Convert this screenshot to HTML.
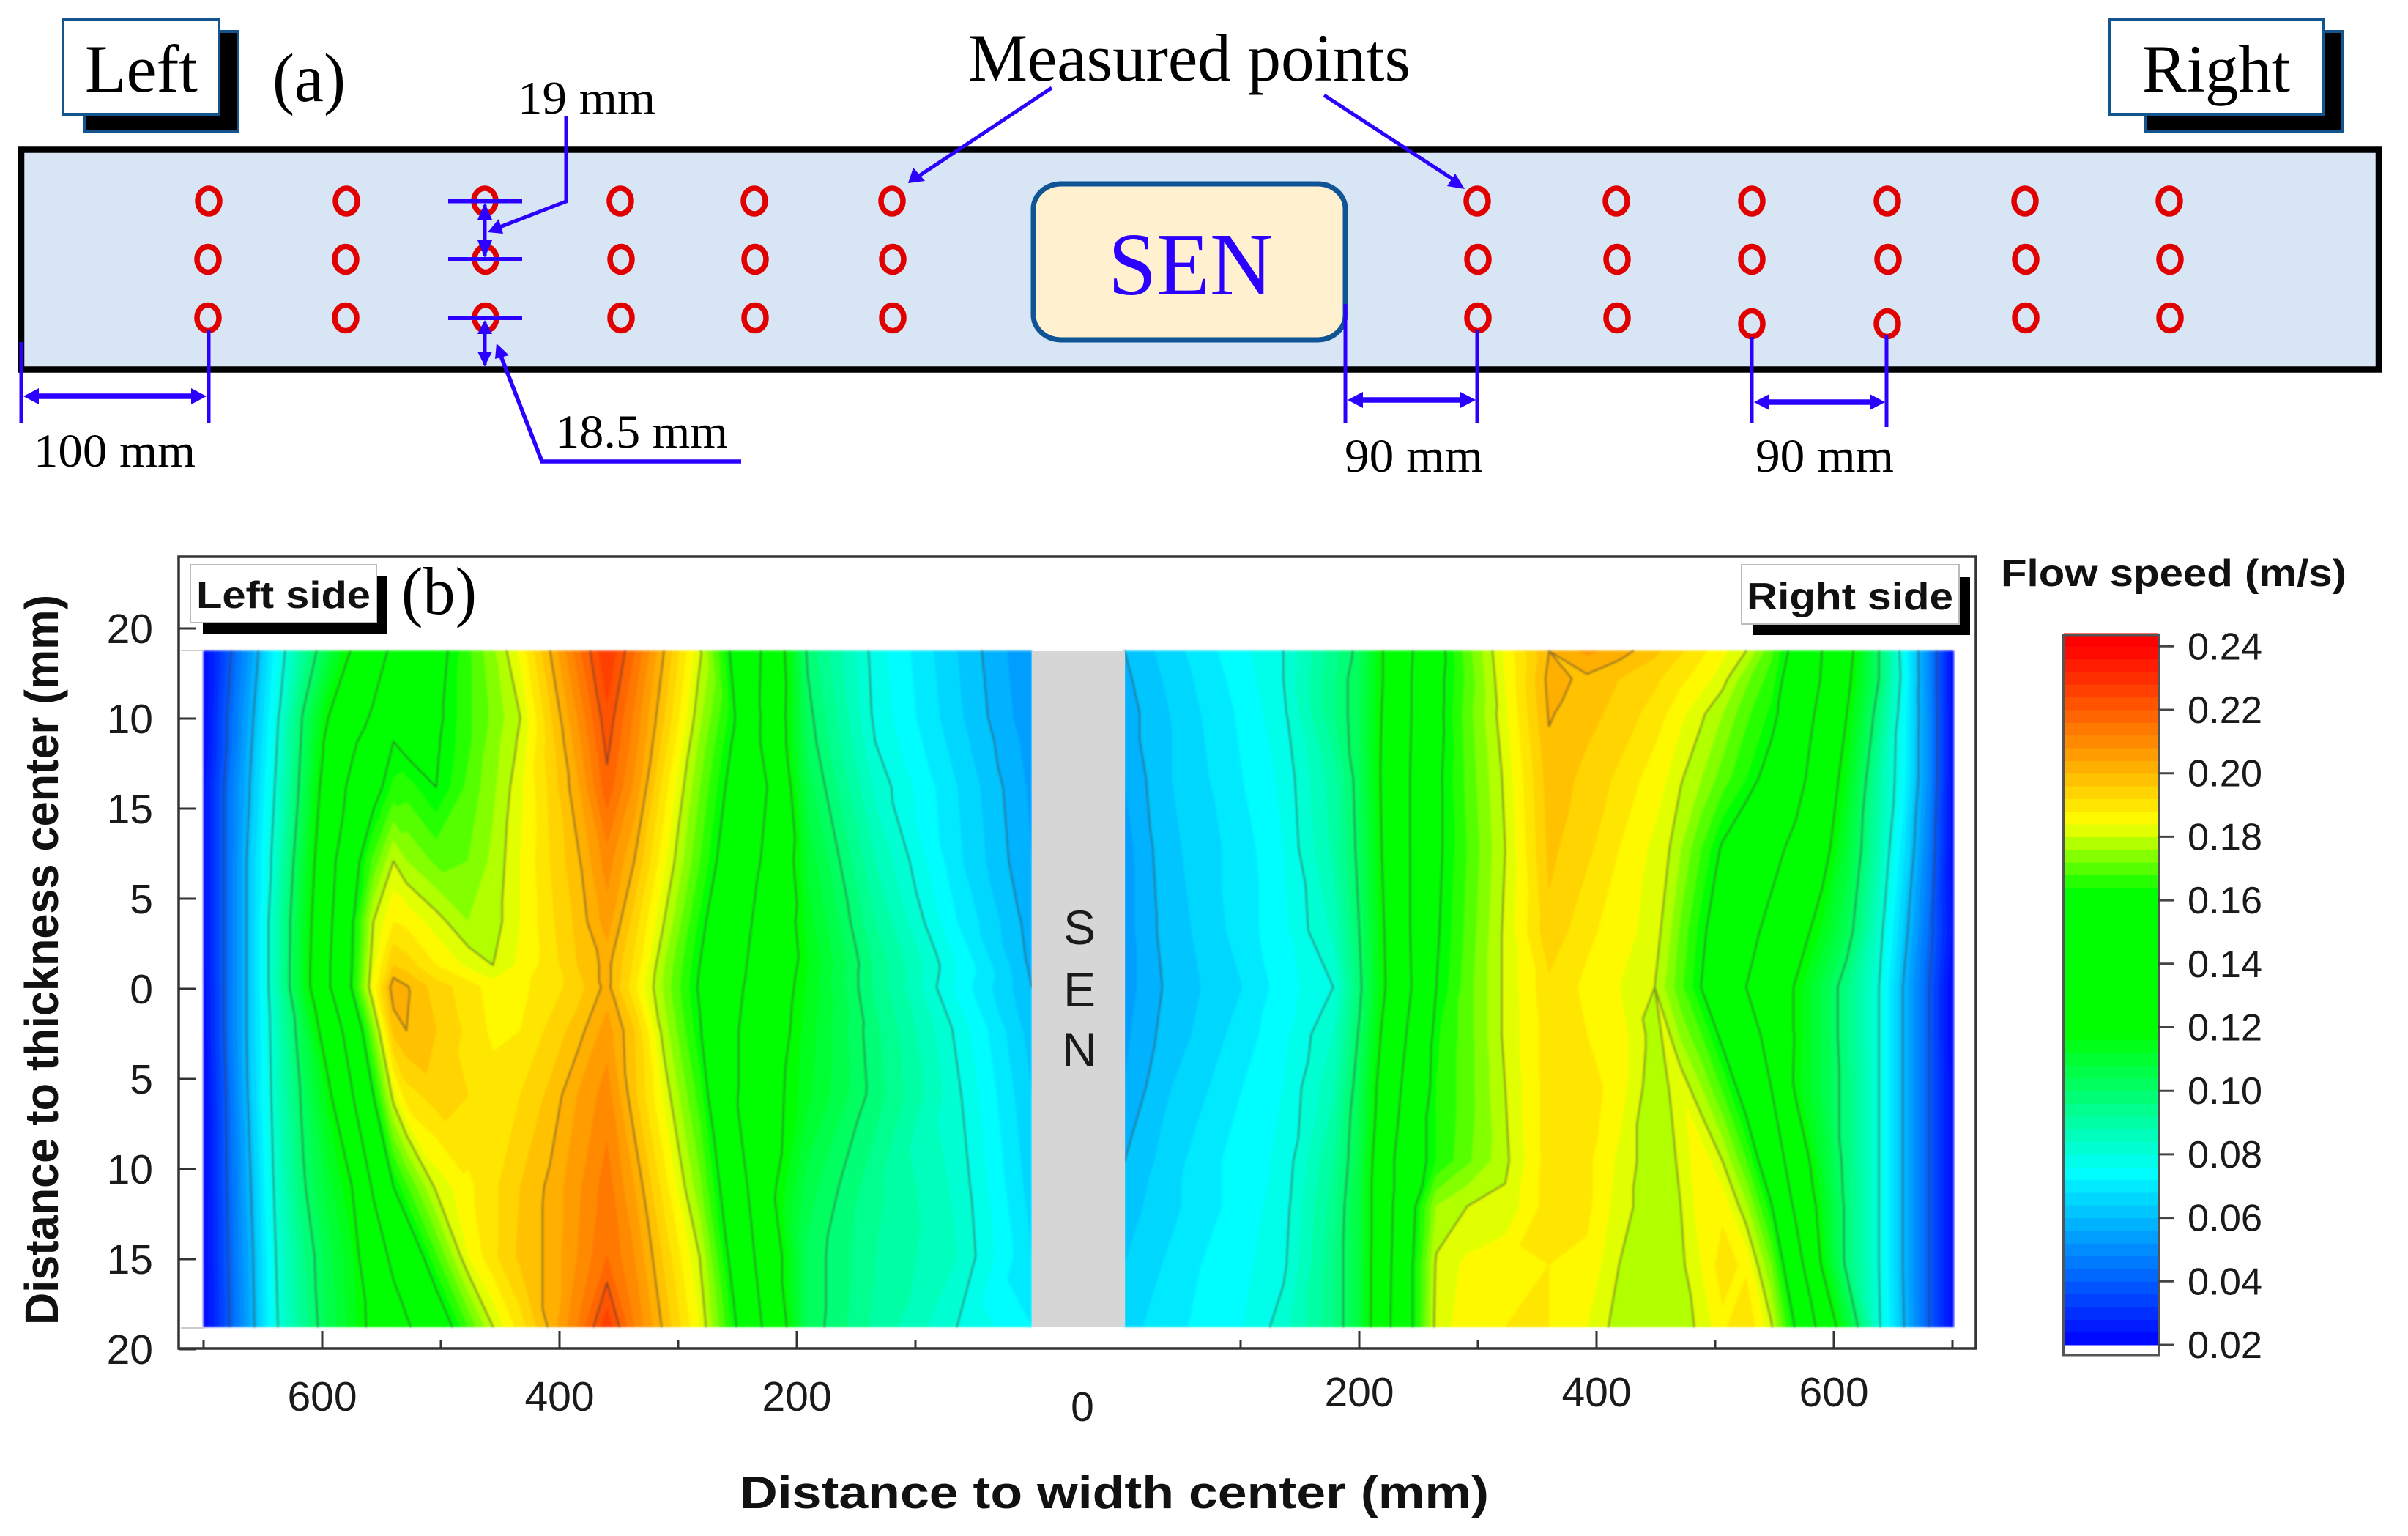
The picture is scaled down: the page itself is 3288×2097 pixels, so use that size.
<!DOCTYPE html>
<html lang="en">
<head>
<meta charset="utf-8">
<title>Flow speed measurement chart</title>
<style>
html,body{margin:0;padding:0;background:#fff;}
svg{display:block;}
.serif{font-family:"Liberation Serif",serif;fill:#000;}
.sans{font-family:"Liberation Sans",sans-serif;fill:#1a1a1a;}
.bold{font-family:"Liberation Sans",sans-serif;font-weight:bold;fill:#111;}
</style>
</head>
<body>
<svg id="figure" xmlns="http://www.w3.org/2000/svg" width="3288" height="2097" viewBox="0 0 3288 2097">
<defs>
<filter id="soft" x="-2%" y="-2%" width="104%" height="104%"><feGaussianBlur stdDeviation="1.3"/></filter>
</defs>
<rect x="0" y="0" width="3288" height="2097" fill="#fff"/>

<g>
<rect x="115" y="43" width="210" height="137" fill="#000" stroke="#14558f" stroke-width="4"/>
<rect x="86" y="27" width="213" height="129" fill="#fff" stroke="#14558f" stroke-width="4"/>
<text class="serif" x="116" y="125" font-size="92" textLength="154" lengthAdjust="spacingAndGlyphs">Left</text>
<text class="serif" x="372" y="138" font-size="94" textLength="100" lengthAdjust="spacingAndGlyphs">(a)</text>
<rect x="2930" y="43" width="268" height="137" fill="#000" stroke="#14558f" stroke-width="4"/>
<rect x="2880" y="27" width="292" height="129" fill="#fff" stroke="#14558f" stroke-width="4"/>
<text class="serif" x="2925" y="125" font-size="92" textLength="202" lengthAdjust="spacingAndGlyphs">Right</text>
<text class="serif" x="1322" y="110" font-size="92" textLength="604" lengthAdjust="spacingAndGlyphs">Measured points</text>
<text class="serif" x="707" y="155" font-size="64" textLength="188" lengthAdjust="spacingAndGlyphs">19 mm</text>

<rect x="29" y="204.5" width="3219" height="300" fill="#d8e5f5" stroke="#000" stroke-width="8.5"/>
<rect x="1411" y="251" width="426" height="213" rx="38" ry="34" fill="#fff1cf" stroke="#0f5494" stroke-width="7"/>
<text class="serif" x="1513" y="402" font-size="122" textLength="225" lengthAdjust="spacingAndGlyphs" style="fill:#2b00ff">SEN</text>

<g fill="none" stroke="#e00000" stroke-width="7.5">
<ellipse cx="285" cy="274.5" rx="15" ry="17.5"/>
<ellipse cx="473" cy="274.5" rx="15" ry="17.5"/>
<ellipse cx="662" cy="274.5" rx="15" ry="17.5"/>
<ellipse cx="847" cy="274.5" rx="15" ry="17.5"/>
<ellipse cx="1030" cy="274.5" rx="15" ry="17.5"/>
<ellipse cx="1218" cy="274.5" rx="15" ry="17.5"/>
<ellipse cx="284" cy="354" rx="15" ry="17.5"/>
<ellipse cx="472" cy="354" rx="15" ry="17.5"/>
<ellipse cx="663" cy="354" rx="15" ry="17.5"/>
<ellipse cx="848" cy="354" rx="15" ry="17.5"/>
<ellipse cx="1031" cy="354" rx="15" ry="17.5"/>
<ellipse cx="1219" cy="354" rx="15" ry="17.5"/>
<ellipse cx="284" cy="434" rx="15" ry="17.5"/>
<ellipse cx="472" cy="434" rx="15" ry="17.5"/>
<ellipse cx="663" cy="434" rx="15" ry="17.5"/>
<ellipse cx="848" cy="434" rx="15" ry="17.5"/>
<ellipse cx="1031" cy="434" rx="15" ry="17.5"/>
<ellipse cx="1219" cy="434" rx="15" ry="17.5"/>
<ellipse cx="2017" cy="274.5" rx="15" ry="17.5"/>
<ellipse cx="2207" cy="274.5" rx="15" ry="17.5"/>
<ellipse cx="2392" cy="274.5" rx="15" ry="17.5"/>
<ellipse cx="2577" cy="274.5" rx="15" ry="17.5"/>
<ellipse cx="2765" cy="274.5" rx="15" ry="17.5"/>
<ellipse cx="2962" cy="274.5" rx="15" ry="17.5"/>
<ellipse cx="2018" cy="354" rx="15" ry="17.5"/>
<ellipse cx="2208" cy="354" rx="15" ry="17.5"/>
<ellipse cx="2392" cy="354" rx="15" ry="17.5"/>
<ellipse cx="2578" cy="354" rx="15" ry="17.5"/>
<ellipse cx="2766" cy="354" rx="15" ry="17.5"/>
<ellipse cx="2963" cy="354" rx="15" ry="17.5"/>
<ellipse cx="2018" cy="434" rx="15" ry="17.5"/>
<ellipse cx="2208" cy="434" rx="15" ry="17.5"/>
<ellipse cx="2392" cy="442" rx="15" ry="17.5"/>
<ellipse cx="2577" cy="442" rx="15" ry="17.5"/>
<ellipse cx="2766" cy="434" rx="15" ry="17.5"/>
<ellipse cx="2963" cy="434" rx="15" ry="17.5"/>
</g>

<g stroke="#2b00ff" fill="none" stroke-width="5">
<line x1="1436" y1="120" x2="1246" y2="246"/>
<line x1="1808" y1="130" x2="1992" y2="250"/>
<line x1="612" y1="274.5" x2="713" y2="274.5" stroke-width="6"/>
<line x1="612" y1="354" x2="713" y2="354" stroke-width="6"/>
<line x1="612" y1="434" x2="713" y2="434" stroke-width="6"/>
<line x1="662" y1="280" x2="662" y2="350"/>
<line x1="662" y1="440" x2="662" y2="498"/>
<polyline points="773,158 773,275 672,314" stroke-width="5"/>
<polyline points="680,476 740,630 1012,630" stroke-width="5.5"/>
<line x1="29" y1="467" x2="29" y2="577"/>
<line x1="285" y1="451" x2="285" y2="578"/>
<line x1="1837" y1="415" x2="1837" y2="577"/>
<line x1="2017" y1="451" x2="2017" y2="578"/>
<line x1="2392" y1="460" x2="2392" y2="578"/>
<line x1="2576" y1="458" x2="2576" y2="583"/>
<line x1="40" y1="541" x2="275" y2="541" stroke-width="7.5"/>
<line x1="1848" y1="546" x2="2008" y2="546" stroke-width="7.5"/>
<line x1="2403" y1="549" x2="2566" y2="549" stroke-width="7.5"/>
</g>
<g fill="#2b00ff">
<polygon points="1240,250 1247,229 1263,247"/>
<polygon points="2000,258 1987,237 1976,254"/>
<polygon points="662,277 652,300 672,300"/>
<polygon points="662,352 652,328 672,328"/>
<polygon points="662,437 652,456 672,456"/>
<polygon points="662,500 652,480 672,480"/>
<polygon points="666,317 681,299 687,319"/>
<polygon points="678,469 676,490 695,485"/>
<polygon points="32,541 53,530 53,552"/>
<polygon points="282,541 261,530 261,552"/>
<polygon points="1840,546 1861,535 1861,557"/>
<polygon points="2015,546 1994,535 1994,557"/>
<polygon points="2395,549 2416,538 2416,560"/>
<polygon points="2574,549 2553,538 2553,560"/>
</g>
<text class="serif" x="46" y="637" font-size="65" textLength="221" lengthAdjust="spacingAndGlyphs">100 mm</text>
<text class="serif" x="758" y="611" font-size="65" textLength="236" lengthAdjust="spacingAndGlyphs">18.5 mm</text>
<text class="serif" x="1836" y="644" font-size="65" textLength="189" lengthAdjust="spacingAndGlyphs">90 mm</text>
<text class="serif" x="2397" y="644" font-size="65" textLength="189" lengthAdjust="spacingAndGlyphs">90 mm</text>
</g>

<g id="contour-chart">
<g id="plot-left" filter="url(#soft)"></g>
<g id="plot-right" filter="url(#soft)"></g>
<rect x="1409" y="889" width="127" height="923" fill="#d6d6d6"/>
<text class="sans" x="1474" y="1289" font-size="66" text-anchor="middle">S</text>
<text class="sans" x="1474" y="1374" font-size="66" text-anchor="middle">E</text>
<text class="sans" x="1474" y="1456" font-size="66" text-anchor="middle">N</text>
<line x1="247" y1="888" x2="278" y2="888" stroke="#ccc" stroke-width="2"/>
<line x1="247" y1="1813" x2="278" y2="1813" stroke="#ccc" stroke-width="2"/>
<rect x="244" y="760" width="2454" height="1081" fill="none" stroke="#333" stroke-width="3.5"/>
<g id="axis-ticks"></g>

<rect x="277" y="786" width="252" height="79" fill="#000"/>
<rect x="260" y="771" width="254" height="79" fill="#fff" stroke="#bbb" stroke-width="2"/>
<text class="bold" x="268" y="830" font-size="52" textLength="238" lengthAdjust="spacingAndGlyphs">Left side</text>
<text class="serif" x="548" y="838" font-size="92" textLength="103" lengthAdjust="spacingAndGlyphs">(b)</text>
<rect x="2394" y="788" width="296" height="79" fill="#000"/>
<rect x="2378" y="771" width="297" height="81" fill="#fff" stroke="#bbb" stroke-width="2"/>
<text class="bold" x="2385" y="832" font-size="52" textLength="282" lengthAdjust="spacingAndGlyphs">Right side</text>

<text class="bold" transform="translate(79,1809) rotate(-90)" x="0" y="0" font-size="64" textLength="997" lengthAdjust="spacingAndGlyphs">Distance to thickness center (mm)</text>
<text class="bold" x="1010" y="2059" font-size="62" textLength="1023" lengthAdjust="spacingAndGlyphs">Distance to width center (mm)</text>
</g>

<g id="colorbar">
<text class="bold" x="2732" y="800" font-size="52" textLength="472" lengthAdjust="spacingAndGlyphs">Flow speed (m/s)</text>
<g id="colorbar-bands"></g>
<rect x="2817.5" y="867" width="130" height="983" fill="none" stroke="#555" stroke-width="3"/>
<g id="colorbar-ticks"></g>
</g>
</svg>

<script>
/* Distance to width centre (mm) for each grid column */
const xLeft = [700,680,659,639,616,595,575,557,540,529,504,477,456,433,408,385,360,337,312,282,253,225,191,134,65,2];
const xRight = [2.2,34,67,102,136,178,200,220,244,265,291,323,360,392,419,449,459,471,488,506,526,547,568,590,611,638,658,680,701];
/* Distance to thickness centre (mm) for each grid row */
const yLeft = [18.75,15.04,13.72,11.19,7.09,3.72,1.31,0.1,-2.31,-5.92,-10.98,-14.84,-18.75];
const yRight = [18.75,17.21,15.28,11.67,7.81,3.24,0.1,-2.55,-5.44,-9.54,-12.07,-15.32,-18.75];
/* Flow speed (m/s), rows top to bottom */
const speedLeft = [
[.02,.037,.055,.074,.092,.107,.121,.133,.143,.147,.156,.167,.175,.185,.2,.214,.228,.216,.2,.181,.157,.136,.099,.078,.064,.052],
[.02,.04,.059,.078,.101,.12,.133,.142,.147,.151,.158,.167,.173,.18,.195,.208,.223,.211,.196,.177,.161,.135,.102,.079,.065,.053],
[.02,.04,.06,.079,.102,.124,.137,.149,.16,.157,.159,.167,.174,.181,.194,.206,.2215,.21,.194,.175,.159,.135,.103,.08,.066,.054],
[.022,.043,.062,.081,.104,.128,.144,.156,.165,.166,.16,.169,.175,.183,.193,.203,.2185,.207,.19,.172,.156,.14,.106,.083,.068,.055],
[.022,.043,.065,.084,.109,.133,.155,.169,.18,.176,.171,.172,.177,.184,.192,.199,.21,.2,.185,.168,.152,.137,.111,.088,.069,.056],
[.022,.043,.065,.087,.112,.136,.159,.18,.188,.187,.182,.176,.178,.184,.191,.197,.206,.194,.18,.163,.147,.134,.114,.092,.072,.058],
[.022,.043,.065,.087,.113,.138,.16,.183,.196,.194,.188,.183,.18,.185,.19,.196,.2015,.191,.176,.16,.145,.132,.116,.095,.076,.059],
[.021,.043,.065,.087,.113,.138,.161,.185,.203,.2005,.194,.19,.186,.187,.19,.194,.2015,.189,.175,.159,.144,.13,.115,.095,.075,.06],
[.021,.043,.065,.085,.106,.128,.148,.173,.197,.2,.196,.191,.187,.188,.193,.198,.206,.196,.178,.161,.142,.128,.114,.097,.079,.062],
[.02,.041,.064,.084,.102,.117,.139,.16,.182,.19,.194,.192,.19,.192,.197,.204,.21,.197,.183,.166,.142,.125,.113,.098,.081,.064],
[.02,.04,.061,.082,.099,.11,.12,.142,.16,.167,.181,.187,.191,.196,.201,.207,.214,.204,.19,.173,.151,.124,.106,.093,.083,.066],
[.02,.039,.059,.08,.095,.106,.115,.13,.144,.151,.167,.184,.191,.197,.201,.208,.216,.208,.195,.18,.156,.13,.103,.092,.084,.068],
[.02,.038,.058,.079,.093,.105,.114,.123,.132,.138,.152,.168,.18,.19,.201,.212,.2267,.212,.199,.184,.162,.136,.103,.091,.08,.072]
];
const speedRight = [
[.06,.065,.07,.075,.08,.094,.102,.12,.139,.156,.17,.185,.2,.205,.202,.197,.195,.1925,.189,.185,.18,.169,.156,.14,.125,.1,.077,.049,.02],
[.059,.064,.069,.074,.08,.095,.104,.12,.14,.157,.169,.184,.2015,.199,.196,.193,.191,.189,.186,.182,.173,.166,.153,.139,.123,.1,.078,.049,.02],
[.058,.063,.068,.073,.079,.095,.104,.121,.14,.157,.17,.183,.2005,.197,.195,.19,.188,.185,.181,.176,.169,.163,.152,.135,.12,.096,.076,.05,.02],
[.056,.063,.067,.072,.077,.09,.103,.122,.141,.158,.169,.181,.198,.195,.191,.186,.184,.1805,.176,.17,.164,.156,.146,.13,.115,.09,.075,.05,.02],
[.054,.062,.066,.07,.076,.089,.102,.121,.141,.158,.168,.18,.197,.193,.188,.183,.181,.176,.168,.159,.152,.145,.136,.125,.11,.088,.07,.047,.02],
[.054,.061,.065,.07,.075,.085,.1,.119,.141,.159,.169,.181,.195,.189,.186,.182,.178,.171,.162,.154,.145,.136,.126,.115,.104,.083,.064,.043,.022],
[.054,.06,.064,.068,.074,.08,.098,.118,.14,.16,.17,.181,.191,.187,.184,.18,.175,.169,.16,.15,.14,.129,.119,.107,.096,.08,.06,.04,.018],
[.055,.061,.065,.07,.075,.084,.101,.122,.144,.163,.17,.181,.19,.188,.186,.178,.1815,.175,.168,.158,.147,.135,.119,.107,.096,.08,.06,.04,.018],
[.056,.063,.067,.072,.076,.087,.104,.126,.148,.164,.17,.18,.19,.19,.186,.177,.1795,.183,.176,.167,.155,.14,.118,.107,.097,.08,.06,.04,.02],
[.06,.065,.07,.074,.077,.092,.106,.131,.154,.164,.171,.179,.19,.189,.183,.177,.178,.181,.187,.18,.168,.152,.13,.111,.097,.08,.06,.04,.02],
[.062,.066,.07,.074,.078,.094,.108,.131,.157,.176,.18,.181,.19,.189,.182,.177,.178,.18,.186,.187,.177,.161,.137,.115,.098,.08,.06,.04,.02],
[.064,.068,.072,.075,.079,.095,.108,.132,.159,.181,.185,.187,.188,.187,.18,.177,.178,.179,.184,.19,.187,.172,.148,.119,.098,.08,.06,.04,.02],
[.066,.07,.073,.076,.082,.095,.108,.133,.159,.182,.186,.188,.188,.184,.178,.1775,.1775,.178,.181,.187,.192,.181,.159,.134,.11,.081,.061,.04,.02]
];
const contourLevels = [.04,.06,.08,.1,.12,.14,.16,.18,.2,.22];
const yTickValues = [20,15,10,5,0,-5,-10,-15,-20];
const yTickLabels = ["20","10","15","5","0","5","10","15","20"];
const xMajorTicks = [600,400,200];
const xMinorTicks = [700,500,300,100];
const colorbarTicks = [.24,.22,.2,.18,.16,.14,.12,.1,.08,.06,.04,.02];
/* Colour map stops: speed and matching RGB */
const colorStopValues = [.02,.0745,.1184,.1627,.1846,.24];
const colorStopRGB = [[0,0,255],[0,255,255],[0,255,0],[0,255,0],[255,255,0],[255,0,0]];

const SVGNS = "http://www.w3.org/2000/svg";
const BAND_MIN = .02, BAND_MAX = .244, BAND_STEP = .004;
const bandCount = Math.round((BAND_MAX - BAND_MIN) / BAND_STEP);

function xLeftScale(mm){ return 1412 - 1.62 * mm; }
function xRightScale(mm){ return 1532 + 1.62 * mm; }
function yScale(mm){ return 1350 - 24.6 * mm; }
function barScale(v){ return 1836 - (v - .02) / .02 * 86.7; }

function speedColor(v){
  if (v <= colorStopValues[0]) return "rgb(0,0,255)";
  for (let i = 1; i < colorStopValues.length; i++) {
    if (v <= colorStopValues[i]) {
      const t = (v - colorStopValues[i-1]) / (colorStopValues[i] - colorStopValues[i-1]);
      const a = colorStopRGB[i-1], b = colorStopRGB[i];
      return "rgb(" + Math.round(a[0]+(b[0]-a[0])*t) + "," + Math.round(a[1]+(b[1]-a[1])*t) + "," + Math.round(a[2]+(b[2]-a[2])*t) + ")";
    }
  }
  return "rgb(255,0,0)";
}

function make(parent, tag, attrs, text){
  const el = document.createElementNS(SVGNS, tag);
  for (const k in attrs) el.setAttribute(k, attrs[k]);
  if (text !== undefined) el.textContent = text;
  parent.appendChild(el);
  return el;
}

function clipPoly(poly, level, keepAbove){
  const out = [];
  for (let i = 0; i < poly.length; i++) {
    const p = poly[i], q = poly[(i+1) % poly.length];
    const pIn = keepAbove ? p.v >= level : p.v <= level;
    const qIn = keepAbove ? q.v >= level : q.v <= level;
    if (pIn) out.push(p);
    if (pIn !== qIn) {
      const t = (level - p.v) / (q.v - p.v);
      out.push({x: p.x + (q.x-p.x)*t, y: p.y + (q.y-p.y)*t, v: level});
    }
  }
  return out;
}

function polyPath(poly){
  let s = "";
  for (let i = 0; i < poly.length; i++) s += (i ? "L" : "M") + poly[i].x.toFixed(1) + " " + poly[i].y.toFixed(1);
  return s + "Z";
}

function drawPanel(target, xs, ys, grid, xScale){
  const bands = new Array(bandCount).fill("");
  const lines = contourLevels.map(function(){ return ""; });
  function tri(a, b, c){
    const lo = Math.min(a.v, b.v, c.v), hi = Math.max(a.v, b.v, c.v);
    let i0 = Math.floor((lo - BAND_MIN) / BAND_STEP), i1 = Math.floor((hi - BAND_MIN) / BAND_STEP);
    i0 = Math.max(0, Math.min(bandCount-1, i0));
    i1 = Math.max(0, Math.min(bandCount-1, i1));
    for (let i = i0; i <= i1; i++) {
      let poly = [a, b, c];
      if (i > 0) poly = clipPoly(poly, BAND_MIN + i * BAND_STEP, true);
      if (poly.length && i < bandCount-1) poly = clipPoly(poly, BAND_MIN + (i+1) * BAND_STEP, false);
      if (poly.length >= 3) bands[i] += polyPath(poly);
    }
    contourLevels.forEach(function(L, k){
      const pts = [];
      [[a,b],[b,c],[c,a]].forEach(function(e){
        if ((e[0].v >= L) !== (e[1].v >= L)) {
          const t = (L - e[0].v) / (e[1].v - e[0].v);
          pts.push([e[0].x + (e[1].x-e[0].x)*t, e[0].y + (e[1].y-e[0].y)*t]);
        }
      });
      if (pts.length === 2) lines[k] += "M" + pts[0][0].toFixed(1) + " " + pts[0][1].toFixed(1) + "L" + pts[1][0].toFixed(1) + " " + pts[1][1].toFixed(1);
    });
  }
  for (let r = 0; r < ys.length - 1; r++) {
    for (let c = 0; c < xs.length - 1; c++) {
      const x0 = xScale(xs[c]), x1 = xScale(xs[c+1]), y0 = yScale(ys[r]), y1 = yScale(ys[r+1]);
      const A = {x:x0,y:y0,v:grid[r][c]}, B = {x:x1,y:y0,v:grid[r][c+1]};
      const C = {x:x1,y:y1,v:grid[r+1][c+1]}, D = {x:x0,y:y1,v:grid[r+1][c]};
      /* split each cell along the diagonal whose ends have the closest speeds */
      if (Math.abs(A.v - C.v) <= Math.abs(B.v - D.v)) { tri(A,B,C); tri(A,C,D); }
      else { tri(A,B,D); tri(B,C,D); }
    }
  }
  bands.forEach(function(d, i){
    if (!d) return;
    const col = speedColor(BAND_MIN + (i + .5) * BAND_STEP);
    const el = make(target, "path", {d: d, fill: col, stroke: col, "stroke-width": "1", "stroke-linejoin": "round"});
    
    
  });
  lines.forEach(function(d){
    if (!d) return;
    const el = make(target, "path", {d: d, fill: "none", stroke: "#333", "stroke-opacity": ".5", "stroke-width": "2.6", "stroke-linecap": "round"});
    
    
  });
}

drawPanel(document.getElementById("plot-left"), xLeft, yLeft, speedLeft, xLeftScale);
drawPanel(document.getElementById("plot-right"), xRight, yRight, speedRight, xRightScale);

const tickGroup = document.getElementById("axis-ticks");
yTickValues.forEach(function(v, i){
  const y = yScale(v);
  const tick = make(tickGroup, "line", {x1: 244, x2: 268, y1: y, y2: y, stroke: "#333", "stroke-width": 3});
  
  
  const label = make(tickGroup, "text", {x: 209, y: y + 20, "font-size": 57, "text-anchor": "end", "class": "sans"}, yTickLabels[i]);
  
  
});
[xLeftScale, xRightScale].forEach(function(scale, side){
  xMajorTicks.forEach(function(v){
    const x = scale(v);
    const tick = make(tickGroup, "line", {x1: x, x2: x, y1: 1841, y2: 1817, stroke: "#333", "stroke-width": 3});
    
    
    const label = make(tickGroup, "text", {x: x, y: side ? 1920 : 1926, "font-size": 57, "text-anchor": "middle", "class": "sans"}, String(v));
    
    
  });
  xMinorTicks.forEach(function(v){
    const x = scale(v);
    const tick = make(tickGroup, "line", {x1: x, x2: x, y1: 1841, y2: 1830, stroke: "#333", "stroke-width": 3});
    
    
  });
});
const zeroLabel = make(tickGroup, "text", {x: 1478, y: 1940, "font-size": 57, "text-anchor": "middle", "class": "sans"}, "0");



const barBands = document.getElementById("colorbar-bands");
for (let i = 0; i < bandCount; i++) {
  const lo = BAND_MIN + i * BAND_STEP, hi = lo + BAND_STEP;
  const band = make(barBands, "rect", {x: 2818, width: 129, y: barScale(hi) - .5, height: barScale(lo) - barScale(hi) + 1, fill: speedColor((lo + hi) / 2)});
  
  
}
const barTicks = document.getElementById("colorbar-ticks");
colorbarTicks.forEach(function(v){
  const y = barScale(v);
  const tick = make(barTicks, "line", {x1: 2947, x2: 2969, y1: y, y2: y, stroke: "#444", "stroke-width": 3});
  
  
  const label = make(barTicks, "text", {x: 2987, y: y + 18, "font-size": 52, textLength: 102, lengthAdjust: "spacingAndGlyphs", "class": "sans"}, v.toFixed(2));
  
  
});
</script>
</body>
</html>
